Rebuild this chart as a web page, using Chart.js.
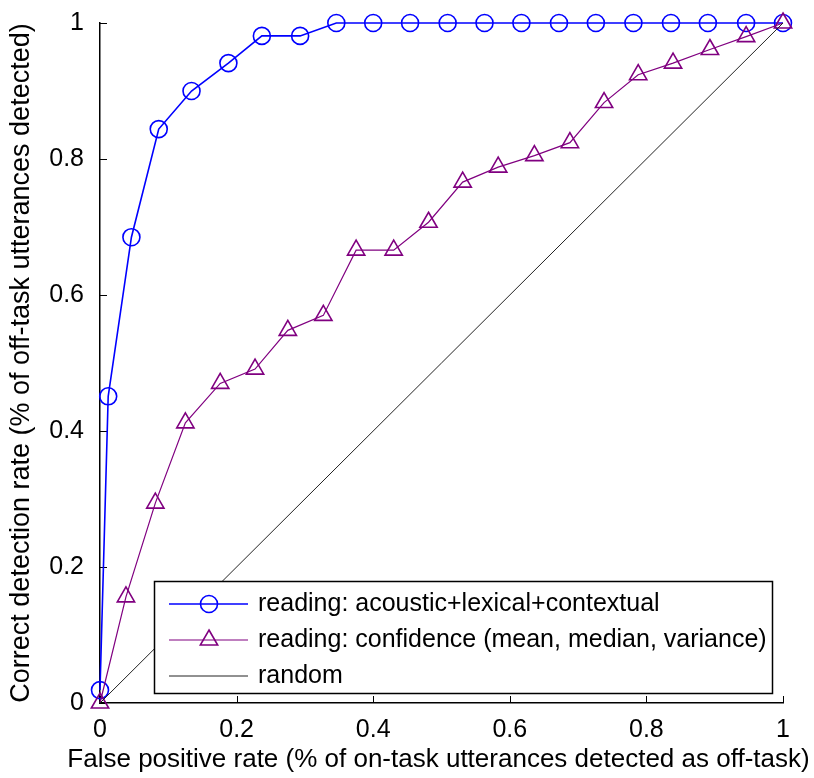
<!DOCTYPE html>
<html>
<head>
<meta charset="utf-8">
<script src="https://cdn.jsdelivr.net/npm/chart.js@4.4.0/dist/chart.umd.min.js"></script>
<style>
html, body { margin: 0; padding: 0; background: #fff; }
#wrap { width: 814px; height: 778px; }
</style>
</head>
<body>
<div id="wrap"><canvas id="roc" width="814" height="778"></canvas></div>
<script>
// ROC points
var acousticFpr = [0, 0.012, 0.046, 0.086, 0.134, 0.188, 0.237, 0.293, 0.346, 0.40, 0.454, 0.509, 0.563, 0.617, 0.672, 0.726, 0.781, 0.836, 0.89, 0.946, 1.0];
var acousticTpr = [0.019, 0.451, 0.685, 0.844, 0.90, 0.941, 0.981, 0.981, 1, 1, 1, 1, 1, 1, 1, 1, 1, 1, 1, 1, 1];

var confidenceFpr = [0, 0.038, 0.081, 0.125, 0.176, 0.227, 0.275, 0.327, 0.375, 0.430, 0.481, 0.531, 0.583, 0.636, 0.688, 0.738, 0.788, 0.839, 0.893, 0.946, 1.0];
var confidenceTpr = [0, 0.156, 0.294, 0.412, 0.47, 0.491, 0.548, 0.570, 0.666, 0.666, 0.707, 0.766, 0.788, 0.805, 0.824, 0.883, 0.924, 0.941, 0.961, 0.98, 1.0];

var randomFpr = [0, 1];
var randomTpr = [0, 1];

var seriesLabels = ['reading: acoustic+lexical+contextual', 'reading: confidence (mean, median, variance)', 'random'];
var tickValues = [0, 0.2, 0.4, 0.6, 0.8, 1];
var tickLabels = ['0', '0.2', '0.4', '0.6', '0.8', '1'];
var xTitle = 'False positive rate (% of on-task utterances detected as off-task)';
var yTitle = 'Correct detection rate (% of off-task utterances detected)';

var FONT = "'Liberation Sans', Arial, sans-serif";

function toPoints(xs, ys) {
    var pts = [];
    for (var i = 0; i < xs.length; i++) {
        pts.push({x: xs[i], y: ys[i]});
    }
    return pts;
}

function setTicks(scale) {
    scale.ticks = tickValues.map(function (v) { return {value: v}; });
}

function tickLabel(value) {
    var i = tickValues.indexOf(value);
    return i >= 0 ? tickLabels[i] : '';
}

function drawMarker(ctx, style, x, y, r) {
    ctx.beginPath();
    if (style === 'circle') {
        ctx.arc(x, y, r, 0, Math.PI * 2);
    } else if (style === 'triangle') {
        for (var k = 0; k < 3; k++) {
            var a = k * Math.PI * 2 / 3;
            var px = x + Math.sin(a) * r, py = y - Math.cos(a) * r;
            if (k === 0) ctx.moveTo(px, py); else ctx.lineTo(px, py);
        }
        ctx.closePath();
    }
    ctx.stroke();
}

// inward tick marks, like the original figure
var innerTicks = {
    id: 'innerTicks',
    beforeDatasetsDraw: function (chart) {
        var ctx = chart.ctx, ca = chart.chartArea;
        var xs = chart.scales.x, ys = chart.scales.y;
        ctx.save();
        ctx.strokeStyle = '#000';
        ctx.lineWidth = 1;
        tickValues.forEach(function (v) {
            var px = Math.round(xs.getPixelForValue(v)) + 0.5;
            ctx.beginPath();
            ctx.moveTo(px, ca.bottom);
            ctx.lineTo(px, ca.bottom - 7);
            ctx.stroke();
            var py = Math.round(ys.getPixelForValue(v)) + 0.5;
            ctx.beginPath();
            ctx.moveTo(ca.left, py);
            ctx.lineTo(ca.left + 7, py);
            ctx.stroke();
        });
        ctx.restore();
    }
};

// x title is wider than the axis, so Chart.js would squeeze it; draw it here
var wideXTitle = {
    id: 'wideXTitle',
    afterDraw: function (chart) {
        var ctx = chart.ctx, ca = chart.chartArea;
        ctx.save();
        ctx.font = '26px ' + FONT;
        ctx.fillStyle = '#000';
        ctx.textAlign = 'center';
        ctx.textBaseline = 'middle';
        ctx.fillText(xTitle, (ca.left + ca.right) / 2 - 3, chart.height - 18);
        ctx.restore();
    }
};

// boxed legend sitting inside the axes, lower right
var boxLegend = {
    id: 'boxLegend',
    afterDatasetsDraw: function (chart) {
        var ctx = chart.ctx, ca = chart.chartArea;
        var left = ca.left + 54, top = ca.top + 558;
        var right = ca.right - 11, bottom = ca.bottom - 10;
        ctx.save();
        ctx.fillStyle = '#fff';
        ctx.fillRect(left, top, right - left, bottom - top);
        ctx.strokeStyle = '#000';
        ctx.lineWidth = 1.5;
        ctx.strokeRect(left + 0.5, top + 0.5, right - left, bottom - top);
        ctx.font = '25px ' + FONT;
        ctx.textBaseline = 'middle';
        ctx.textAlign = 'left';
        chart.data.datasets.forEach(function (ds, i) {
            var ry = top + 23 + i * 36;
            ctx.strokeStyle = ds.borderColor;
            ctx.lineWidth = ds.borderWidth;
            ctx.beginPath();
            ctx.moveTo(left + 15, ry);
            ctx.lineTo(left + 94, ry);
            ctx.stroke();
            if (ds.pointRadius > 0) {
                ctx.lineWidth = ds.pointBorderWidth;
                drawMarker(ctx, ds.pointStyle, left + 55, ry, ds.pointRadius);
            }
            ctx.fillStyle = '#000';
            ctx.fillText(ds.label, left + 104, ry);
        });
        ctx.restore();
    }
};

var ctx = document.getElementById('roc').getContext('2d');
var rocChart = new Chart(ctx, {
    type: 'scatter',
    data: {
        datasets: [{
            label: seriesLabels[0],
            data: toPoints(acousticFpr, acousticTpr),
            showLine: true,
            borderColor: '#0000ff',
            borderWidth: 1.6,
            backgroundColor: 'rgba(0,0,0,0)',
            pointStyle: 'circle',
            pointRadius: 8.5,
            pointBorderWidth: 1.6,
            pointHoverRadius: 8.5,
            clip: false,
            order: 3
        }, {
            label: seriesLabels[1],
            data: toPoints(confidenceFpr, confidenceTpr),
            showLine: true,
            borderColor: '#800080',
            borderWidth: 1.2,
            backgroundColor: 'rgba(0,0,0,0)',
            pointStyle: 'triangle',
            pointRadius: 10,
            pointBorderWidth: 1.6,
            pointHoverRadius: 10,
            clip: false,
            order: 2
        }, {
            label: seriesLabels[2],
            data: toPoints(randomFpr, randomTpr),
            showLine: true,
            borderColor: '#222',
            borderWidth: 1,
            pointRadius: 0,
            clip: false,
            order: 1
        }]
    },
    options: {
        responsive: false,
        animation: false,
        layout: {padding: {top: 20, right: 31, left: 0, bottom: 0}},
        plugins: {
            legend: {display: false},
            tooltip: {enabled: false}
        },
        scales: {
            x: {
                type: 'linear',
                min: 0,
                max: 1,
                afterBuildTicks: setTicks,
                afterFit: function (s) { s.height = 75; },
                grid: {display: false},
                border: {display: true, color: '#000', width: 1.5},
                ticks: {
                    color: '#000',
                    font: {family: FONT, size: 25},
                    padding: 4,
                    maxRotation: 0,
                    callback: tickLabel
                },
                title: {display: false}
            },
            y: {
                type: 'linear',
                min: 0,
                max: 1,
                afterBuildTicks: setTicks,
                afterFit: function (s) { s.width = 100; },
                grid: {display: false},
                border: {display: true, color: '#000', width: 1.5},
                ticks: {
                    color: '#000',
                    font: {family: FONT, size: 25},
                    padding: 8,
                    callback: tickLabel
                },
                title: {
                    display: true,
                    text: yTitle,
                    color: '#000',
                    font: {family: FONT, size: 27},
                    padding: {top: 5, bottom: 0}
                }
            }
        }
    },
    plugins: [innerTicks, boxLegend, wideXTitle]
});
</script>
</body>
</html>
